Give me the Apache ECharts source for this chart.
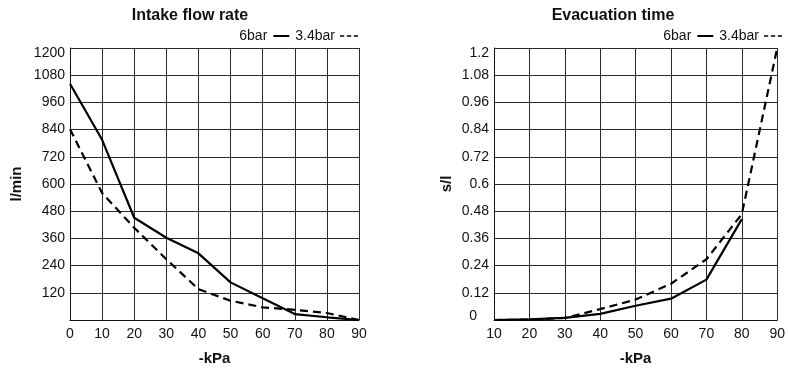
<!DOCTYPE html>
<html>
<head>
<meta charset="utf-8">
<script src="https://cdn.jsdelivr.net/npm/echarts@6/dist/echarts.min.js"></script>
<style>html,body{margin:0;padding:0;background:#fff}#c{width:788px;height:371px}</style>
</head>
<body>
<div id="c"></div>
<script>
var kpaLeft = [0, 10, 20, 30, 40, 50, 60, 70, 80, 90];
var flow6bar = [1042, 795, 451, 363, 294, 166, 96, 26, 12, 0];
var flow34bar = [842, 560, 407, 268, 136, 85, 56, 45, 31, 0];

var kpaRight = [10, 20, 30, 40, 50, 60, 70, 80, 90];
var evac6bar = [0, 0.003, 0.009, 0.027, 0.063, 0.094, 0.178, 0.445, null];
var evac34bar = [0, 0.002, 0.009, 0.048, 0.09, 0.16, 0.268, 0.467, 1.2];

var seriesNames = ['6bar', '3.4bar'];
var titles = ['Intake flow rate', 'Evacuation time'];
var yNames = ['l/min', 's/l'];
var xName = '-kPa';

function pairs(xs, ys) {
  return xs.map(function (x, i) { return [x, ys[i]]; });
}

var FONT = 'Liberation Sans, Arial, Helvetica, sans-serif';
var gridColor = '#2a2a2a';
var labelRich = {
  t: { fontFamily: FONT, fontSize: 14, color: '#111', padding: [10, 0, 0, 0] },
  b: { fontFamily: FONT, fontSize: 14, color: '#111', padding: [0, 12, 8, 0] }
};

function xAxis(idx, min) {
  return {
    gridIndex: idx, type: 'value', min: min, max: 90, interval: 10,
    name: xName, nameLocation: 'middle', nameGap: 31,
    nameTextStyle: { fontFamily: FONT, fontSize: 15, fontWeight: 'bold', color: '#111' },
    axisLine: { show: true, lineStyle: { color: '#111', width: 1 } },
    axisTick: { show: false },
    axisLabel: { fontFamily: FONT, fontSize: 14, color: '#111', margin: 7 },
    splitLine: { show: true, lineStyle: { color: gridColor, width: 1 } }
  };
}
function yAxis(idx, max, interval, fmt, gap) {
  return {
    gridIndex: idx, type: 'value', min: 0, max: max, interval: interval,
    name: yNames[idx], nameLocation: 'middle', nameRotate: 90, nameGap: gap,
    nameTextStyle: { fontFamily: FONT, fontSize: 15, fontWeight: 'bold', color: '#111' },
    axisLine: { show: true, lineStyle: { color: '#111', width: 1 } },
    axisTick: { show: false },
    axisLabel: { fontFamily: FONT, fontSize: 14, color: '#111', margin: 5, formatter: fmt, rich: labelRich },
    splitLine: { show: true, lineStyle: { color: gridColor, width: 1 } }
  };
}
function line(name, data, xi, yi, dashed) {
  return {
    name: name, type: 'line', xAxisIndex: xi, yAxisIndex: yi, data: data,
    symbol: 'none', connectNulls: false, silent: true,
    lineStyle: { color: '#000', width: 2.2, type: dashed ? [8, 5] : 'solid' },
    itemStyle: { color: '#000' }
  };
}
var legendData = [
  { name: seriesNames[0], icon: 'path://M0,0H16V2H0Z' },
  { name: seriesNames[1], icon: 'path://M0,0H5V2H0Z M8,0H13V2H8Z M16,0H21V2H16Z' }
];
function legend(right) {
  return {
    data: legendData, right: right, top: 29, align: 'right', itemWidth: 18, itemHeight: 2, itemGap: 6,
    padding: 0,
    textStyle: { fontFamily: FONT, fontSize: 14, color: '#111', padding: [0, 0, 0, 0] }
  };
}

var chart = echarts.init(document.getElementById('c'), null, { renderer: 'canvas' });
chart.setOption({
  animation: false,
  backgroundColor: '#fff',
  title: [
    { text: titles[0], left: 185, top: 3, textAlign: 'center',
      textStyle: { fontFamily: FONT, fontSize: 16, fontWeight: 'bold', color: '#111' } },
    { text: titles[1], left: 608, top: 3, textAlign: 'center',
      textStyle: { fontFamily: FONT, fontSize: 16, fontWeight: 'bold', color: '#111' } }
  ],
  legend: [legend(430), legend(6)],
  grid: [
    { left: 70, right: 429, top: 48, bottom: 50 },
    { left: 494, right: 6, top: 48, bottom: 50 }
  ],
  xAxis: [xAxis(0, 0), xAxis(1, 10)],
  yAxis: [
    yAxis(0, 1200, 120, function (v) {
      if (v === 0) return '';
      if (v === 1200) return '{t|' + v + '}';
      return String(v);
    }, 46),
    yAxis(1, 1.2, 0.12, function (v) {
      var s = String(parseFloat(v.toFixed(2)));
      if (v === 0) return '{b|' + s + '}';
      if (Math.abs(v - 1.2) < 1e-9) return '{t|' + s + '}';
      return s;
    }, 40)
  ],
  series: [
    line(seriesNames[0], pairs(kpaLeft, flow6bar), 0, 0, false),
    line(seriesNames[1], pairs(kpaLeft, flow34bar), 0, 0, true),
    line(seriesNames[0], pairs(kpaRight, evac6bar), 1, 1, false),
    line(seriesNames[1], pairs(kpaRight, evac34bar), 1, 1, true)
  ]
});
</script>
</body>
</html>
